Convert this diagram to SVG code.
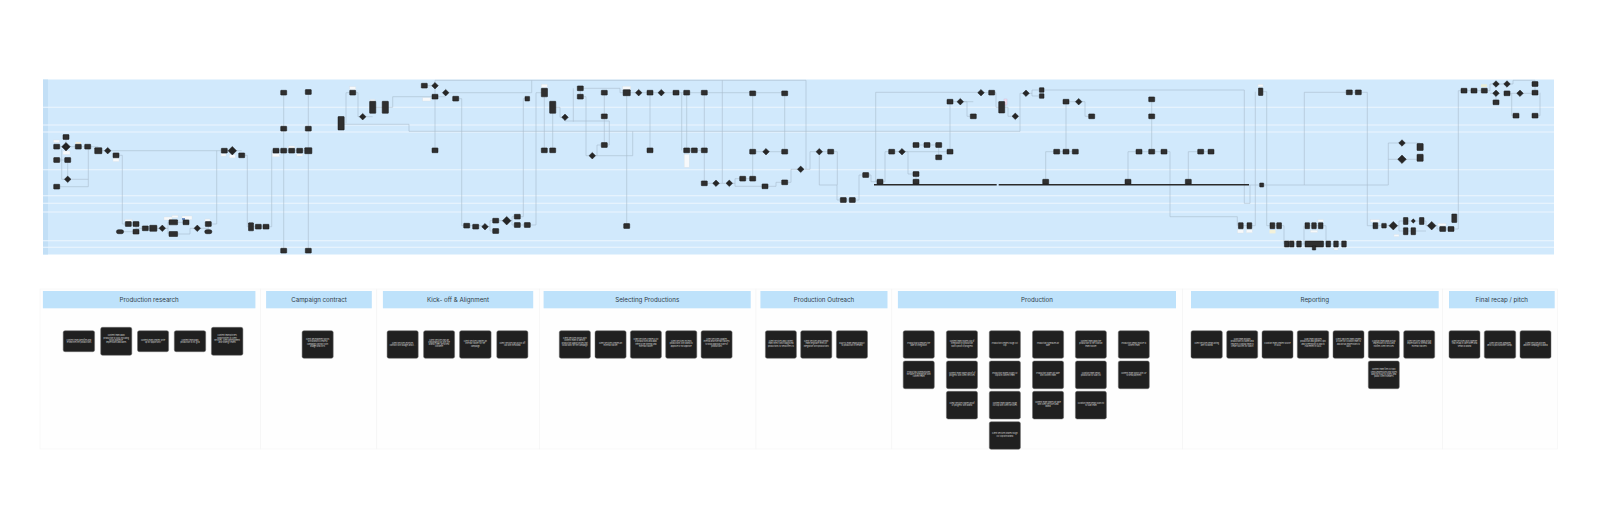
<svg xmlns="http://www.w3.org/2000/svg" width="1600" height="511" viewBox="0 0 1600 511">
<style>
.lane{fill:#d1e9fc}
.ll{stroke:#edf6fe;stroke-width:1.1}
.cn{fill:none;stroke:#a8bccd;stroke-width:.6}
.bar{stroke:#2a2a2a;stroke-width:1.6}
.lbl{fill:#f7f9fb;stroke:#d8dde2;stroke-width:.3}
.hd{fill:#bee2fb}
.ht{font-family:Inter,Roboto,"Liberation Sans",sans-serif;font-size:6.2px;fill:#2f3b47;text-anchor:middle}
.pn{fill:#fefefe;stroke:#f3f3f3;stroke-width:.6}
.card{fill:#202020;stroke:#6a6a6a;stroke-width:.5}
.ct{font-family:Inter,Roboto,"Liberation Sans",sans-serif;font-size:1.9px;fill:#d8d8d8;text-anchor:middle}
.nb{fill:#2f2f2f;stroke:#141414;stroke-width:.5}
</style>
<defs>
<rect id="r" x="-3" y="-2.4" width="6" height="4.8" rx=".5" fill="#2f2f2f" stroke="#141414" stroke-width=".5"/>
<rect id="rb" x="-3.6" y="-3" width="7.2" height="6" rx=".5" fill="#2f2f2f" stroke="#141414" stroke-width=".5"/>
<rect id="rs" x="-2.3" y="-2.3" width="4.6" height="4.6" rx=".4" fill="#2f2f2f" stroke="#141414" stroke-width=".5"/>
<rect id="pl" x="-3.6" y="-2" width="7.2" height="4" rx="2" fill="#2f2f2f" stroke="#141414" stroke-width=".5"/>
<path id="d" d="M0,-3.3L3.3,0L0,3.3L-3.3,0Z" fill="#262626" stroke="#141414" stroke-width=".4"/>
<path id="D" d="M0,-4.3L4.3,0L0,4.3L-4.3,0Z" fill="#262626" stroke="#141414" stroke-width=".4"/>
</defs>
<rect width="1600" height="511" fill="#ffffff"/>

<g id="swimlane">
<rect class="lane" x="43" y="79.5" width="1511" height="175"/>
<rect x="43" y="79.5" width="5" height="175" fill="#c2dff6"/>
<line class="ll" x1="43" y1="107.3" x2="1554" y2="107.3"/>
<line class="ll" x1="43" y1="125" x2="1554" y2="125"/>
<line class="ll" x1="43" y1="132" x2="1554" y2="132"/>
<line class="ll" x1="43" y1="169.7" x2="1554" y2="169.7"/>
<line class="ll" x1="43" y1="195.7" x2="1554" y2="195.7"/>
<line class="ll" x1="43" y1="203.3" x2="1554" y2="203.3"/>
<line class="ll" x1="43" y1="212" x2="1554" y2="212"/>
<line class="ll" x1="43" y1="240.7" x2="1554" y2="240.7"/>
<line class="ll" x1="43" y1="247.3" x2="1554" y2="247.3"/>
</g>

<g id="connectors">
<path class="cn" d="M56.7,146.7H98.3M61.7,149V179.3H88.3M88.3,146.7V186.7H56.7M66,137V146.7M56.7,160H67.7M67.7,160V179.3"/>
<path class="cn" d="M98.3,150.7H224.3M216.7,150.7V224H208.3M116,155.3H122.3V224H128.3"/>
<path class="cn" d="M120,231.7H136M128.3,224H136M136,224V231.7M136,228.3H162.3M162.3,228.3H168V222.3H186M168,228.3V234H190V228.3H208.3M208.3,224V231.7"/>
<path class="cn" d="M224.3,150.7H241.7M241.7,155.3H247.3V226.7H266M266,226.7H271.7V150.7H308.3M283.7,92.7V250.7M308.3,92V250.7"/>
<path class="cn" d="M346,123.3V92.7H352.7M352.7,92.7H358V116.7H372.7M372.7,107.3H385.3M385.3,107.3H392.7V96.7H435"/>
<path class="cn" d="M341,124.3H409V131.3H1020V93.3H1026"/>
<path class="cn" d="M424.3,85.7H435M435,85.7V80.3H806V169.3M722.3,80.3V183.3M435,85.7V150.3M435,96.7H445.7M445.7,92.7H531.7V80.3M455.7,98.7H461.7V225.7H466.7"/>
<path class="cn" d="M466.7,225.7H485M485,226.7H490V220.7H506.7M490,226.7V231H495.7M506.7,220.7H512V216.7H517.3M512,220.7V225H527.3M517.3,216.7H523.3V98.7H527.3M527.3,225H536V92.7H544.3"/>
<path class="cn" d="M544.3,92.7V150.3M552.7,107.3V150.3M552.7,107.3H560V117.3H565M565,117.3V121H609.3V145H604.3"/>
<path class="cn" d="M580.3,88.3V96.7M573.3,88.3V121.7M580.3,96.7H586V155.7H592.3M592.3,155.7H597V145H604.3M604.3,92.7V145M597,155.7H632.7V131.3M580.3,88.3H620V92.7H626.7"/>
<path class="cn" d="M626.7,92.7V226M626.7,92.7H704.3M650,92.7V150.3M686.7,92.7V150.3M681.7,92.7V150.3M686.7,150.3H704.3"/>
<path class="cn" d="M704.3,92.7V183.3H729.3M729.3,183.3H735V178.7H752.7M752.7,93.3V178.7M735,183.3V186.3H765M765,186.3H776V182.3H784.7M752.7,151.7H784.7M704.3,92.7H784M784.7,93.3V151.7"/>
<path class="cn" d="M784.7,182.3H791V169.3H806M806,169.3H810V151.7H830.7M819.3,151.7V185H837V200H852.3M830.7,151.7H837.3V185"/>
<path class="cn" d="M852.3,200H859V175H865.7M865.7,175H871V181.7H880M875.7,181.7V92.3H981M880,181.7H885V151.7H950M902,151.7H908V174H916M916,145H938.7M938.7,145V157.3M916,174V181.7"/>
<path class="cn" d="M950,151.7V101.7H973.3M960.3,101.7H967V116.3H973.3M981,92.7H991.7M991.7,92.7H996V107.3H1001.7M1001.7,107.3H1008V116.3H1015.3"/>
<path class="cn" d="M1026,93.3H1032V90H1041.7M1032,93.3V96H1041.7M1041.7,90H1244.3V203.3H1250V185"/>
<path class="cn" d="M1066,101.7H1078.7M1078.7,101.7H1085V116.3H1091.7M1066,101.7V151.7M1045.7,181.7V151.7H1075.3M1128,181.7V151.7H1164M1151.7,99.3V151.7M1164,151.7H1170V216.7H1237.3V225.7M1188.3,181.7V151.7H1211"/>
<path class="cn" d="M1249,185H1261.7M1255.3,91.7V225.7H1249.3M1260.7,91.7H1266.7V225.7H1272.3M1240.7,225.7H1249.3M1272.3,225.7H1279M1279,225.7H1284V244M1286.7,244H1344M1307.3,225.7H1320.7M1304,225.7V244M1320.7,225.7H1326V244"/>
<path class="cn" d="M1261.7,185H1388.3V143H1402M1388.3,159.3H1402M1402,143H1420M1402,159.3H1420M1304.3,185V92.3H1349.3M1349.3,92.3H1358.3M1358.3,92.3H1367.3V225.7H1375.3"/>
<path class="cn" d="M1375.3,225.7H1393.3M1393.3,225.7H1399V221H1421.7M1399,225.7V231H1413.3M1421.7,221H1426V225.7H1431.7M1413.3,231H1426M1431.7,225.7H1437V229H1451M1451,229H1458.3V90.7H1484.3"/>
<path class="cn" d="M1484.3,90.7H1490V84H1507M1490,93.3H1496M1496,93.3V102.3M1507,93.3H1535M1507,84H1513V80.3H1535V84M1511.7,93.3V115.7H1516M1535,84V92.7M1540,92.7V115.7H1535"/>
<line class="bar" x1="874" y1="184.7" x2="996.7" y2="184.7"/>
<line class="bar" x1="998.7" y1="184.7" x2="1249" y2="184.7"/>
</g>

<g id="labels">
<rect class="lbl" x="53.5" y="140" width="6" height="2.5"/>
<rect class="lbl" x="63" y="151" width="7" height="3.5"/>
<rect x="75.5" y="142" width="5.5" height="2" fill="#f3ecd9"/>
<rect class="lbl" x="113" y="158.2" width="6" height="3.3"/>
<rect class="lbl" x="125" y="219.5" width="7" height="2.2"/>
<rect class="lbl" x="164" y="217" width="8" height="3"/>
<rect class="lbl" x="172" y="215.5" width="6" height="2.2"/>
<rect class="lbl" x="182" y="216" width="10" height="3.5"/>
<rect x="182" y="218" width="3" height="2" fill="#6c8fc4"/>
<rect class="lbl" x="205" y="219" width="5" height="2.2"/>
<rect class="lbl" x="221" y="153.7" width="5" height="2.4"/>
<rect class="lbl" x="229.3" y="154.5" width="6" height="3.4"/>
<rect class="lbl" x="272.5" y="153.5" width="7" height="3.3"/>
<rect class="lbl" x="288.7" y="146" width="6" height="2.2"/>
<rect class="lbl" x="296.7" y="154" width="6" height="2"/>
<rect class="lbl" x="349.7" y="86.7" width="6" height="3"/>
<rect class="lbl" x="370" y="99.5" width="5" height="2.3"/>
<rect class="lbl" x="422.7" y="97.8" width="8" height="3.2"/>
<rect class="lbl" x="541.3" y="84.3" width="6" height="3"/>
<rect class="lbl" x="622.7" y="86.3" width="8" height="3.3"/>
<rect class="lbl" x="684.2" y="154.3" width="5" height="13"/>
<rect x="1004" y="99" width="3" height="6" fill="#efdfee" stroke="#c9a6c8" stroke-width=".3"/>
<rect class="lbl" x="1258" y="84.5" width="5" height="2.2"/>
<rect class="lbl" x="1237.5" y="229.8" width="6" height="3.2"/>
<rect class="lbl" x="1246.3" y="229.8" width="6" height="3"/>
<rect x="1269.5" y="230" width="6" height="3.4" fill="#f3f1d9"/>
<rect class="lbl" x="1288.5" y="240.2" width="7" height="2"/>
<rect class="lbl" x="1310.5" y="230.3" width="7" height="2.2"/>
<rect class="lbl" x="1318" y="219.6" width="5.5" height="2.2"/>
<rect class="lbl" x="1334" y="248" width="4" height="2"/>
<rect class="lbl" x="1370.5" y="219.7" width="9" height="2.3"/>
<rect class="lbl" x="1394" y="234.5" width="5" height="2"/>
<rect class="lbl" x="1438" y="223.5" width="8" height="2.2"/>
<rect x="1481" y="84.3" width="6" height="2.8" fill="#e9ecd6"/>
</g>

<g id="t1"><use href="#r" x="56.7" y="146.7"/></g>
<g id="t2"><use href="#r" x="66" y="137"/></g>
<g id="t3"><use href="#D" x="66" y="146.7"/><circle cx="66" cy="146.7" r="2.2" fill="none" stroke="#141414" stroke-width=".5"/></g>
<g id="t4"><use href="#r" x="78.3" y="146.7"/></g>
<g id="t5"><use href="#r" x="87.7" y="146.7"/></g>
<g id="t6"><use href="#r" x="56.7" y="160"/></g>
<g id="t7"><use href="#r" x="67.7" y="160"/></g>
<g id="t8"><use href="#d" x="67.7" y="179.3"/></g>
<g id="t9"><use href="#r" x="56.7" y="186.7"/></g>
<g id="t10"><use href="#rb" x="98.3" y="150.7"/></g>
<g id="t11"><use href="#d" x="107.7" y="150.7"/></g>
<g id="t12"><use href="#r" x="116" y="155.3"/></g>
<g id="t13"><use href="#pl" x="120" y="231.7"/></g>
<g id="t14"><use href="#r" x="128.3" y="224"/></g>
<g id="t15"><use href="#r" x="136" y="224"/></g>
<g id="t16"><use href="#r" x="136" y="231.7"/></g>
<g id="t17"><use href="#r" x="145.3" y="228.3"/></g>
<g id="t18"><use href="#rb" x="153.3" y="228.3"/></g>
<g id="t19"><use href="#d" x="162.3" y="228.3"/></g>
<g id="t20"><rect class="nb" x="169" y="219.8" width="8.6" height="5" rx=".5"/></g>
<g id="t21"><rect class="nb" x="169" y="231.5" width="8.6" height="5" rx=".5"/></g>
<g id="t22"><use href="#r" x="186" y="222.3"/></g>
<g id="t23"><use href="#d" x="197.3" y="228.3"/></g>
<g id="t24"><use href="#r" x="208.3" y="224"/></g>
<g id="t25"><use href="#pl" x="208.3" y="231.7"/></g>
<g id="t26"><use href="#r" x="224.3" y="150.7"/></g>
<g id="t27"><use href="#D" x="232.3" y="150.7"/></g>
<g id="t28"><use href="#r" x="241.7" y="155.3"/></g>
<g id="t29"><rect class="nb" x="248.5" y="222.8" width="5" height="8" rx=".5"/></g>
<g id="t30"><use href="#r" x="258.3" y="226.7"/></g>
<g id="t31"><use href="#r" x="266" y="226.7"/></g>
<g id="t32"><use href="#r" x="276" y="150.7"/></g>
<g id="t33"><use href="#r" x="283.7" y="150.7"/></g>
<g id="t34"><use href="#r" x="291.7" y="150.7"/></g>
<g id="t35"><use href="#r" x="299.7" y="150.7"/></g>
<g id="t36"><use href="#rb" x="308.3" y="150.7"/></g>
<g id="t37"><use href="#r" x="283.7" y="92.7"/></g>
<g id="t38"><use href="#r" x="308.3" y="92"/></g>
<g id="t39"><use href="#r" x="283.7" y="128.7"/></g>
<g id="t40"><use href="#r" x="308.3" y="128.7"/></g>
<g id="t41"><use href="#r" x="283.7" y="250.7"/></g>
<g id="t42"><use href="#r" x="308.3" y="250.7"/></g>
<g id="t43"><rect class="nb" x="338" y="116.5" width="6.2" height="13.5" rx=".5"/></g>
<g id="t44"><use href="#r" x="352.7" y="92.7"/></g>
<g id="t45"><use href="#d" x="362.7" y="116.7"/></g>
<g id="t46"><rect class="nb" x="369.6" y="101.3" width="6.2" height="12" rx=".5"/></g>
<g id="t47"><rect class="nb" x="382.2" y="101.3" width="6.2" height="12" rx=".5"/></g>
<g id="t48"><use href="#r" x="424.3" y="85.7"/></g>
<g id="t49"><use href="#d" x="435" y="85.7"/></g>
<g id="t50"><use href="#r" x="435" y="96.7"/></g>
<g id="t51"><use href="#d" x="445.7" y="92.7"/></g>
<g id="t52"><use href="#r" x="455.7" y="98.7"/></g>
<g id="t53"><use href="#r" x="435" y="150.3"/></g>
<g id="t54"><use href="#r" x="466.7" y="225.7"/></g>
<g id="t55"><use href="#r" x="475.7" y="226.7"/></g>
<g id="t56"><use href="#d" x="485" y="226.7"/></g>
<g id="t57"><use href="#r" x="495.7" y="220.7"/></g>
<g id="t58"><use href="#r" x="495.7" y="231"/></g>
<g id="t59"><use href="#D" x="506.7" y="220.7"/></g>
<g id="t60"><use href="#r" x="517.3" y="216.7"/></g>
<g id="t61"><use href="#r" x="517.3" y="225"/></g>
<g id="t62"><use href="#r" x="527.3" y="225"/></g>
<g id="t63"><use href="#rs" x="527.3" y="98.7"/></g>
<g id="t64"><rect class="nb" x="541.3" y="88.3" width="6.2" height="8.5" rx=".5"/></g>
<g id="t65"><rect class="nb" x="549.6" y="101.3" width="6.2" height="12" rx=".5"/></g>
<g id="t66"><use href="#d" x="565" y="117.3"/></g>
<g id="t67"><use href="#r" x="544.3" y="150.3"/></g>
<g id="t68"><use href="#r" x="552.7" y="150.3"/></g>
<g id="t69"><use href="#r" x="580.3" y="88.3"/></g>
<g id="t70"><use href="#r" x="580.3" y="96.7"/></g>
<g id="t71"><use href="#r" x="604.3" y="92.7"/></g>
<g id="t72"><use href="#r" x="604.3" y="116.3"/></g>
<g id="t73"><use href="#r" x="604.3" y="145"/></g>
<g id="t74"><use href="#d" x="592.3" y="155.7"/></g>
<g id="t75"><use href="#rb" x="626.7" y="92.7"/></g>
<g id="t76"><use href="#d" x="638.7" y="92.7"/></g>
<g id="t77"><use href="#r" x="650" y="92.7"/></g>
<g id="t78"><use href="#d" x="661.3" y="92.7"/></g>
<g id="t79"><use href="#r" x="676" y="92.7"/></g>
<g id="t80"><use href="#r" x="686.7" y="92.7"/></g>
<g id="t81"><use href="#r" x="704.3" y="92.7"/></g>
<g id="t82"><use href="#r" x="752.7" y="93.3"/></g>
<g id="t83"><use href="#r" x="784.7" y="93.3"/></g>
<g id="t84"><use href="#r" x="626.7" y="226"/></g>
<g id="t85"><use href="#r" x="650" y="150.3"/></g>
<g id="t86"><use href="#r" x="686.7" y="150.3"/></g>
<g id="t87"><use href="#r" x="694.3" y="150.3"/></g>
<g id="t88"><use href="#r" x="704.3" y="150.3"/></g>
<g id="t89"><use href="#r" x="704.3" y="183.3"/></g>
<g id="t90"><use href="#d" x="716" y="183.3"/></g>
<g id="t91"><use href="#d" x="729.3" y="183.3"/></g>
<g id="t92"><use href="#r" x="742.7" y="178.7"/></g>
<g id="t93"><use href="#r" x="752.7" y="178.7"/></g>
<g id="t94"><use href="#r" x="765" y="186.3"/></g>
<g id="t95"><use href="#r" x="784.7" y="182.3"/></g>
<g id="t96"><use href="#r" x="752.7" y="151.7"/></g>
<g id="t97"><use href="#d" x="766" y="151.7"/></g>
<g id="t98"><use href="#r" x="784.7" y="151.7"/></g>
<g id="t99"><use href="#d" x="800.7" y="169.3"/></g>
<g id="t100"><use href="#d" x="819.3" y="151.7"/></g>
<g id="t101"><use href="#r" x="830.7" y="151.7"/></g>
<g id="t102"><use href="#r" x="843.3" y="200"/></g>
<g id="t103"><use href="#r" x="852.3" y="200"/></g>
<g id="t104"><use href="#r" x="865.7" y="175"/></g>
<g id="t105"><use href="#r" x="880" y="181.7"/></g>
<g id="t106"><use href="#r" x="891.7" y="151.7"/></g>
<g id="t107"><use href="#d" x="902" y="151.7"/></g>
<g id="t108"><use href="#r" x="916" y="145"/></g>
<g id="t109"><use href="#r" x="927" y="145"/></g>
<g id="t110"><use href="#r" x="938.7" y="145"/></g>
<g id="t111"><use href="#r" x="938.7" y="157.3"/></g>
<g id="t112"><use href="#r" x="916" y="174"/></g>
<g id="t113"><use href="#r" x="916" y="181.7"/></g>
<g id="t114"><use href="#r" x="950" y="151.7"/></g>
<g id="t115"><use href="#r" x="950" y="101.7"/></g>
<g id="t116"><use href="#d" x="960.3" y="101.7"/></g>
<g id="t117"><use href="#r" x="973.3" y="116.3"/></g>
<g id="t118"><use href="#d" x="981" y="92.7"/></g>
<g id="t119"><use href="#r" x="991.7" y="92.7"/></g>
<g id="t120"><rect class="nb" x="998.7" y="101.5" width="6" height="11.5" rx=".5"/></g>
<g id="t121"><use href="#d" x="1015.3" y="116.3"/></g>
<g id="t122"><use href="#d" x="1026" y="93.3"/></g>
<g id="t123"><use href="#rs" x="1041.7" y="90"/></g>
<g id="t124"><use href="#rs" x="1041.7" y="96"/></g>
<g id="t125"><use href="#r" x="1066" y="101.7"/></g>
<g id="t126"><use href="#d" x="1078.7" y="101.7"/></g>
<g id="t127"><use href="#r" x="1091.7" y="116.3"/></g>
<g id="t128"><use href="#r" x="1056.7" y="151.7"/></g>
<g id="t129"><use href="#r" x="1066" y="151.7"/></g>
<g id="t130"><use href="#r" x="1075.3" y="151.7"/></g>
<g id="t131"><use href="#r" x="1045.7" y="181.7"/></g>
<g id="t132"><use href="#r" x="1128" y="181.7"/></g>
<g id="t133"><use href="#r" x="1139" y="151.7"/></g>
<g id="t134"><use href="#r" x="1151.7" y="151.7"/></g>
<g id="t135"><use href="#r" x="1151.7" y="99.3"/></g>
<g id="t136"><use href="#r" x="1151.7" y="116.3"/></g>
<g id="t137"><use href="#r" x="1164" y="151.7"/></g>
<g id="t138"><use href="#r" x="1200.7" y="151.7"/></g>
<g id="t139"><use href="#r" x="1211" y="151.7"/></g>
<g id="t140"><use href="#r" x="1188.3" y="181.7"/></g>
<g id="t141"><rect class="nb" x="1259.7" y="183" width="4" height="4" rx=".4"/></g>
<g id="t142"><rect class="nb" x="1258.5" y="88" width="4.4" height="7.5" rx=".4"/></g>
<g id="t143"><rect class="nb" x="1238.4" y="222.7" width="4.8" height="6" rx=".4"/></g>
<g id="t144"><rect class="nb" x="1247" y="222.7" width="4.8" height="6" rx=".4"/></g>
<g id="t145"><rect class="nb" x="1270" y="222.7" width="4.8" height="6" rx=".4"/></g>
<g id="t146"><rect class="nb" x="1276.7" y="222.7" width="4.8" height="6" rx=".4"/></g>
<g id="t147"><rect class="nb" x="1284.4" y="241" width="4.6" height="6" rx=".4"/></g>
<g id="t148"><rect class="nb" x="1289.4" y="241" width="4.6" height="6" rx=".4"/></g>
<g id="t149"><rect class="nb" x="1296.7" y="241" width="4.6" height="6" rx=".4"/></g>
<g id="t150"><rect class="nb" x="1305" y="241" width="18.5" height="6" rx=".4"/></g>
<g id="t151"><rect class="nb" x="1312.3" y="246" width="3.4" height="4" rx=".3"/></g>
<g id="t152"><rect class="nb" x="1326" y="241" width="4.6" height="6" rx=".4"/></g>
<g id="t153"><rect class="nb" x="1333.7" y="241" width="4.6" height="6" rx=".4"/></g>
<g id="t154"><rect class="nb" x="1341.7" y="241" width="4.6" height="6" rx=".4"/></g>
<g id="t155"><rect class="nb" x="1305" y="222.7" width="4.6" height="6" rx=".4"/></g>
<g id="t156"><rect class="nb" x="1311.7" y="222.7" width="4.6" height="6" rx=".4"/></g>
<g id="t157"><rect class="nb" x="1318.4" y="222.7" width="4.6" height="6" rx=".4"/></g>
<g id="t158"><use href="#r" x="1349.3" y="92.3"/></g>
<g id="t159"><use href="#r" x="1358.3" y="92.3"/></g>
<g id="t160"><use href="#d" x="1402" y="143"/></g>
<g id="t161"><use href="#D" x="1402" y="159.3"/></g>
<g id="t162"><rect class="nb" x="1417" y="143.5" width="6.2" height="7" rx=".5"/></g>
<g id="t163"><rect class="nb" x="1417" y="154.3" width="6.2" height="7" rx=".5"/></g>
<g id="t164"><rect class="nb" x="1373" y="222.7" width="4.8" height="6" rx=".4"/></g>
<g id="t165"><use href="#rs" x="1384" y="225.7"/></g>
<g id="t166"><use href="#D" x="1393.3" y="225.7"/></g>
<g id="t167"><rect class="nb" x="1403.4" y="217.5" width="4.6" height="7" rx=".4"/></g>
<g id="t168"><rect class="nb" x="1403.4" y="227.7" width="4.6" height="7" rx=".4"/></g>
<g id="t169"><path d="M1413.3,218.6L1415.7,221L1413.3,223.4L1410.9,221Z" fill="#262626"/></g>
<g id="t170"><rect class="nb" x="1411" y="227.7" width="4.6" height="7" rx=".4"/></g>
<g id="t171"><rect class="nb" x="1419.4" y="217.5" width="4.6" height="7" rx=".4"/></g>
<g id="t172"><use href="#D" x="1431.7" y="225.7"/></g>
<g id="t173"><use href="#r" x="1442.7" y="229"/></g>
<g id="t174"><use href="#r" x="1451" y="229"/></g>
<g id="t175"><rect class="nb" x="1451.8" y="214" width="5" height="8.5" rx=".4"/></g>
<g id="t176"><use href="#r" x="1464" y="90.7"/></g>
<g id="t177"><use href="#r" x="1474" y="90.7"/></g>
<g id="t178"><use href="#r" x="1484.3" y="90.7"/></g>
<g id="t179"><use href="#d" x="1496" y="84"/></g>
<g id="t180"><use href="#d" x="1496" y="93.3"/></g>
<g id="t181"><use href="#r" x="1496" y="102.3"/></g>
<g id="t182"><use href="#d" x="1507" y="84"/></g>
<g id="t183"><use href="#r" x="1507" y="93.3"/></g>
<g id="t184"><use href="#d" x="1520" y="93.3"/></g>
<g id="t185"><use href="#r" x="1535" y="84"/></g>
<g id="t186"><use href="#r" x="1535" y="92.7"/></g>
<g id="t187"><use href="#r" x="1516" y="115.7"/></g>
<g id="t188"><use href="#r" x="1535" y="115.7"/></g>

<g id="panels">
<rect class="pn" x="40" y="289" width="220.7" height="160"/>
<rect class="pn" x="260.7" y="289" width="116.1" height="160"/>
<rect class="pn" x="376.8" y="289" width="162.5" height="160"/>
<rect class="pn" x="539.3" y="289" width="216.7" height="160"/>
<rect class="pn" x="756" y="289" width="135.8" height="160"/>
<rect class="pn" x="891.8" y="289" width="290.9" height="160"/>
<rect class="pn" x="1182.7" y="289" width="260" height="160"/>
<rect class="pn" x="1442.7" y="289" width="115" height="160"/>
</g>

<g id="h1"><rect class="hd" x="42.9" y="291" width="212.5" height="17.3"/><text class="ht" x="149.2" y="301.9">Production research</text></g>
<g id="h2"><rect class="hd" x="266.1" y="291" width="105.7" height="17.3"/><text class="ht" x="319" y="301.9">Campaign contract</text></g>
<g id="h3"><rect class="hd" x="382.9" y="291" width="150.3" height="17.3"/><text class="ht" x="458" y="301.9">Kick- off &amp; Alignment</text></g>
<g id="h4"><rect class="hd" x="543.6" y="291" width="207.1" height="17.3"/><text class="ht" x="647.2" y="301.9">Selecting Productions</text></g>
<g id="h5"><rect class="hd" x="760.4" y="291" width="127.1" height="17.3"/><text class="ht" x="824" y="301.9">Production Outreach</text></g>
<g id="h6"><rect class="hd" x="897.9" y="291" width="278.1" height="17.3"/><text class="ht" x="1037" y="301.9">Production</text></g>
<g id="h7"><rect class="hd" x="1191" y="291" width="247.7" height="17.3"/><text class="ht" x="1314.8" y="301.9">Reporting</text></g>
<g id="h8"><rect class="hd" x="1449" y="291" width="105.7" height="17.3"/><text class="ht" x="1501.8" y="301.9">Final recap / pitch</text></g>

<g id="c1"><rect class="card" x="63.2" y="330.7" width="31.4" height="21" rx="1.8"/><text class="ct" x="78.9" y="340.5"><tspan x="78.9">Content team identifies and</tspan><tspan x="78.9" dy="2.3">researches net productions</tspan></text></g>
<g id="c2"><rect class="card" x="100.7" y="327.3" width="31.1" height="28" rx="1.8"/><text class="ct" x="116.2" y="336.4"><tspan x="116.2">Content team adds</tspan><tspan x="116.2" dy="2.3">production to SMS including</tspan><tspan x="116.2" dy="2.3">social audience,</tspan><tspan x="116.2" dy="2.3">impressions and dates</tspan></text></g>
<g id="c3"><rect class="card" x="137.5" y="330.7" width="31.1" height="21" rx="1.8"/><text class="ct" x="153" y="340.5"><tspan x="153">Content team creates write</tspan><tspan x="153" dy="2.3">up for opportunity</tspan></text></g>
<g id="c4"><rect class="card" x="174.3" y="330.7" width="31.4" height="21" rx="1.8"/><text class="ct" x="190" y="340.5"><tspan x="190">Content team adds</tspan><tspan x="190" dy="2.3">production to PC grid</tspan></text></g>
<g id="c5"><rect class="card" x="211.4" y="327.3" width="31.5" height="28" rx="1.8"/><text class="ct" x="227.1" y="336.4"><tspan x="227.1">Content team pitches</tspan><tspan x="227.1" dy="2.3">opportunities to client</tspan><tspan x="227.1" dy="2.3">services, client development</tspan><tspan x="227.1" dy="2.3">and strategy teams</tspan></text></g>

<g id="c6"><rect class="card" x="302.1" y="330.7" width="31.1" height="27.6" rx="1.8"/><text class="ct" x="317.6" y="340"><tspan x="317.6">Client development works</tspan><tspan x="317.6" dy="2.3">with brand to create a</tspan><tspan x="317.6" dy="2.3">campaign contract with</tspan><tspan x="317.6" dy="2.3">budget and KPIs</tspan></text></g>

<g id="c7"><rect class="card" x="387.1" y="330.7" width="31.1" height="27.6" rx="1.8"/><text class="ct" x="402.6" y="343.5"><tspan x="402.6">Client services receives</tspan><tspan x="402.6" dy="2.3">contract with budget and K...</tspan></text></g>
<g id="c8"><rect class="card" x="423.6" y="330.7" width="31" height="27.6" rx="1.8"/><text class="ct" x="439.1" y="340.5"><tspan x="439.1">Client services has an</tspan><tspan x="439.1" dy="2.3">onboarding call with the</tspan><tspan x="439.1" dy="2.3">brand if they are a new</tspan><tspan x="439.1" dy="2.3">customer</tspan></text></g>
<g id="c9"><rect class="card" x="459.6" y="330.7" width="31.5" height="27.6" rx="1.8"/><text class="ct" x="475.3" y="342"><tspan x="475.3">Client services creates an</tspan><tspan x="475.3" dy="2.3">internal tracker for the</tspan><tspan x="475.3" dy="2.3">campaign</tspan></text></g>
<g id="c10"><rect class="card" x="496.8" y="330.7" width="31.1" height="27.6" rx="1.8"/><text class="ct" x="512.3" y="343.5"><tspan x="512.3">Client services has a kick off</tspan><tspan x="512.3" dy="2.3">call with the brand</tspan></text></g>

<g id="c11"><rect class="card" x="559.3" y="330.7" width="31.1" height="27.6" rx="1.8"/><text class="ct" x="574.8" y="339"><tspan x="574.8">Client services works with</tspan><tspan x="574.8" dy="2.3">content team to identify</tspan><tspan x="574.8" dy="2.3">production opportunities that</tspan><tspan x="574.8" dy="2.3">could work for the campaign</tspan></text></g>
<g id="c12"><rect class="card" x="595" y="330.7" width="31.1" height="27.6" rx="1.8"/><text class="ct" x="610.5" y="343.5"><tspan x="610.5">Client services creates an</tspan><tspan x="610.5" dy="2.3">external tracker</tspan></text></g>
<g id="c13"><rect class="card" x="630.4" y="330.7" width="31" height="27.6" rx="1.8"/><text class="ct" x="645.9" y="340"><tspan x="645.9">Client services creates a list</tspan><tspan x="645.9" dy="2.3">of productions and adds</tspan><tspan x="645.9" dy="2.3">them to the internal and</tspan><tspan x="645.9" dy="2.3">external tracker</tspan></text></g>
<g id="c14"><rect class="card" x="665.7" y="330.7" width="31.1" height="27.6" rx="1.8"/><text class="ct" x="681.2" y="342"><tspan x="681.2">Client services reviews</tspan><tspan x="681.2" dy="2.3">productions with brand to</tspan><tspan x="681.2" dy="2.3">approve or not approve</tspan></text></g>
<g id="c15"><rect class="card" x="701.1" y="330.7" width="31" height="27.6" rx="1.8"/><text class="ct" x="716.6" y="340"><tspan x="716.6">Client services updates</tspan><tspan x="716.6" dy="2.3">internal and external trackers</tspan><tspan x="716.6" dy="2.3">to show approval state of</tspan><tspan x="716.6" dy="2.3">productions</tspan></text></g>

<g id="c16"><rect class="card" x="765.4" y="330.7" width="31" height="27.6" rx="1.8"/><text class="ct" x="780.9" y="342"><tspan x="780.9">Client services and content</tspan><tspan x="780.9" dy="2.3">team select which approved</tspan><tspan x="780.9" dy="2.3">productions to send offers to</tspan></text></g>
<g id="c17"><rect class="card" x="800.7" y="330.7" width="31.1" height="27.6" rx="1.8"/><text class="ct" x="816.2" y="342"><tspan x="816.2">Client services and content</tspan><tspan x="816.2" dy="2.3">team negotiate terms of</tspan><tspan x="816.2" dy="2.3">integration with productions</tspan></text></g>
<g id="c18"><rect class="card" x="836.4" y="330.7" width="31.1" height="27.6" rx="1.8"/><text class="ct" x="851.9" y="343.5"><tspan x="851.9">RIGHTS team sends product</tspan><tspan x="851.9" dy="2.3">to production if needed</tspan></text></g>

<g id="c19"><rect class="card" x="903.2" y="330.7" width="31.1" height="27.6" rx="1.8"/><text class="ct" x="918.7" y="343.5"><tspan x="918.7">Production schedules the</tspan><tspan x="918.7" dy="2.3">date of integration</tspan></text></g>
<g id="c20"><rect class="card" x="903.2" y="361" width="31.1" height="27.7" rx="1.8"/><text class="ct" x="918.7" y="372.5"><tspan x="918.7">Production communicates</tspan><tspan x="918.7" dy="2.3">the date of integration with</tspan><tspan x="918.7" dy="2.3">content team</tspan></text></g>
<g id="c21"><rect class="card" x="946.4" y="330.7" width="31.1" height="27.6" rx="1.8"/><text class="ct" x="962" y="342"><tspan x="962">Content team shares clip of</tspan><tspan x="962" dy="2.3">integration in production</tspan><tspan x="962" dy="2.3">works proof of progress</tspan></text></g>
<g id="c22"><rect class="card" x="946.4" y="361" width="31.1" height="27.7" rx="1.8"/><text class="ct" x="962" y="373.7"><tspan x="962">Content team shares proof of</tspan><tspan x="962" dy="2.3">progress with client services</tspan></text></g>
<g id="c23"><rect class="card" x="946.4" y="391.3" width="31.1" height="27.7" rx="1.8"/><text class="ct" x="962" y="404"><tspan x="962">Client services shares proof</tspan><tspan x="962" dy="2.3">of progress with brand</tspan></text></g>
<g id="c24"><rect class="card" x="989.3" y="330.7" width="31.1" height="27.6" rx="1.8"/><text class="ct" x="1004.8" y="343.5"><tspan x="1004.8">Production creates rough cut</tspan><tspan x="1004.8" dy="2.3">clip</tspan></text></g>
<g id="c25"><rect class="card" x="989.3" y="361" width="31.1" height="27.7" rx="1.8"/><text class="ct" x="1004.8" y="373.7"><tspan x="1004.8">Production shares rough cut</tspan><tspan x="1004.8" dy="2.3">clip with content team</tspan></text></g>
<g id="c26"><rect class="card" x="989.3" y="391.3" width="31.1" height="27.7" rx="1.8"/><text class="ct" x="1004.8" y="404"><tspan x="1004.8">Content team shares rough</tspan><tspan x="1004.8" dy="2.3">cut clip with client services</tspan></text></g>
<g id="c27"><rect class="card" x="989.3" y="421.7" width="31.1" height="27.6" rx="1.8"/><text class="ct" x="1004.8" y="434.3"><tspan x="1004.8">Client services shares rough</tspan><tspan x="1004.8" dy="2.3">cut clip with brand</tspan></text></g>
<g id="c28"><rect class="card" x="1032.5" y="330.7" width="31.1" height="27.6" rx="1.8"/><text class="ct" x="1048" y="343.5"><tspan x="1048">Production schedules air</tspan><tspan x="1048" dy="2.3">date</tspan></text></g>
<g id="c29"><rect class="card" x="1032.5" y="361" width="31.1" height="27.7" rx="1.8"/><text class="ct" x="1048" y="373.7"><tspan x="1048">Production shares air date</tspan><tspan x="1048" dy="2.3">with content team</tspan></text></g>
<g id="c30"><rect class="card" x="1032.5" y="391.3" width="31.1" height="27.7" rx="1.8"/><text class="ct" x="1048" y="402.8"><tspan x="1048">Content team shares air date</tspan><tspan x="1048" dy="2.3">with client services and</tspan><tspan x="1048" dy="2.3">brand</tspan></text></g>
<g id="c31"><rect class="card" x="1075.4" y="330.7" width="31" height="27.6" rx="1.8"/><text class="ct" x="1090.9" y="342"><tspan x="1090.9">Content team adds the</tspan><tspan x="1090.9" dy="2.3">production to the curation</tspan><tspan x="1090.9" dy="2.3">team tracker</tspan></text></g>
<g id="c32"><rect class="card" x="1075.4" y="361" width="31" height="27.7" rx="1.8"/><text class="ct" x="1090.9" y="373.7"><tspan x="1090.9">Curation team sends</tspan><tspan x="1090.9" dy="2.3">production to scan list</tspan></text></g>
<g id="c33"><rect class="card" x="1075.4" y="391.3" width="31" height="27.7" rx="1.8"/><text class="ct" x="1090.9" y="404"><tspan x="1090.9">Curation team sends scan list</tspan><tspan x="1090.9" dy="2.3">to scan team</tspan></text></g>
<g id="c34"><rect class="card" x="1118.3" y="330.7" width="31" height="27.6" rx="1.8"/><text class="ct" x="1133.8" y="343.5"><tspan x="1133.8">Production sends invoice to</tspan><tspan x="1133.8" dy="2.3">content team</tspan></text></g>
<g id="c35"><rect class="card" x="1118.3" y="361" width="31" height="27.7" rx="1.8"/><text class="ct" x="1133.8" y="373.7"><tspan x="1133.8">Content team works with AP</tspan><tspan x="1133.8" dy="2.3">to send payment</tspan></text></g>

<g id="c36"><rect class="card" x="1191" y="330.7" width="31.3" height="27.6" rx="1.8"/><text class="ct" x="1206.7" y="343.5"><tspan x="1206.7">Client services sends airing</tspan><tspan x="1206.7" dy="2.3">alert to brand</tspan></text></g>
<g id="c37"><rect class="card" x="1226.7" y="330.7" width="31" height="27.6" rx="1.8"/><text class="ct" x="1242.2" y="340"><tspan x="1242.2">Scan team assigns</tspan><tspan x="1242.2" dy="2.3">productions to watch and</tspan><tspan x="1242.2" dy="2.3">requests curation team to</tspan><tspan x="1242.2" dy="2.3">create sources for watch</tspan></text></g>
<g id="c38"><rect class="card" x="1262" y="330.7" width="31" height="27.6" rx="1.8"/><text class="ct" x="1277.5" y="343.5"><tspan x="1277.5">Curation team creates source</tspan><tspan x="1277.5" dy="2.3">in MAS</tspan></text></g>
<g id="c39"><rect class="card" x="1297.3" y="330.7" width="31.4" height="27.6" rx="1.8"/><text class="ct" x="1313" y="340"><tspan x="1313">Scan team watches</tspan><tspan x="1313" dy="2.3">production and gathers clips</tspan><tspan x="1313" dy="2.3">and screenshots to add to</tspan><tspan x="1313" dy="2.3">Placement in MAS</tspan></text></g>
<g id="c40"><rect class="card" x="1333" y="330.7" width="31" height="27.6" rx="1.8"/><text class="ct" x="1348.5" y="340"><tspan x="1348.5">Client services team creates</tspan><tspan x="1348.5" dy="2.3">a ticket for curation team to</tspan><tspan x="1348.5" dy="2.3">add actual impressions to</tspan><tspan x="1348.5" dy="2.3">MAS</tspan></text></g>
<g id="c41"><rect class="card" x="1368.3" y="330.7" width="31" height="27.6" rx="1.8"/><text class="ct" x="1383.8" y="342"><tspan x="1383.8">Curation team adds actual</tspan><tspan x="1383.8" dy="2.3">impressions to MAS and</tspan><tspan x="1383.8" dy="2.3">notifies client services</tspan></text></g>
<g id="c42"><rect class="card" x="1368.3" y="361" width="31" height="27.7" rx="1.8"/><text class="ct" x="1383.8" y="370.3"><tspan x="1383.8">Content team files to track</tspan><tspan x="1383.8" dy="2.3">views impressions and stores</tspan><tspan x="1383.8" dy="2.3">data for PAGE to collect and</tspan><tspan x="1383.8" dy="2.3">public client numbers</tspan></text></g>
<g id="c43"><rect class="card" x="1403.7" y="330.7" width="31" height="27.6" rx="1.8"/><text class="ct" x="1419.2" y="342"><tspan x="1419.2">Client services adds actual</tspan><tspan x="1419.2" dy="2.3">impressions to internal and</tspan><tspan x="1419.2" dy="2.3">external trackers</tspan></text></g>

<g id="c44"><rect class="card" x="1449" y="330.7" width="31" height="27.6" rx="1.8"/><text class="ct" x="1464.5" y="342"><tspan x="1464.5">Client services puts together</tspan><tspan x="1464.5" dy="2.3">final recap in care sheet and</tspan><tspan x="1464.5" dy="2.3">sends to brand</tspan></text></g>
<g id="c45"><rect class="card" x="1484.3" y="330.7" width="31.4" height="27.6" rx="1.8"/><text class="ct" x="1500" y="343.5"><tspan x="1500">Client services prepares</tspan><tspan x="1500" dy="2.3">deck to pitch another camp..</tspan></text></g>
<g id="c46"><rect class="card" x="1520" y="330.7" width="31" height="27.6" rx="1.8"/><text class="ct" x="1535.5" y="343.5"><tspan x="1535.5">Client services pitches</tspan><tspan x="1535.5" dy="2.3">another campaign to brand</tspan></text></g>
</svg>
